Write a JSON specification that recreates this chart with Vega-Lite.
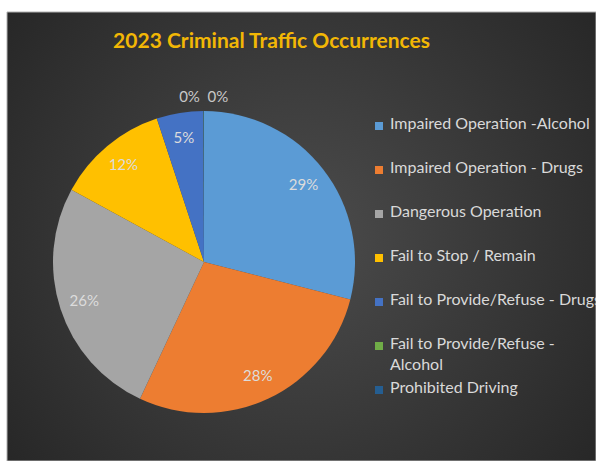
{
  "$schema": "https://vega.github.io/schema/vega-lite/v6.json",
  "width": 589,
  "height": 449,
  "autosize": {"type": "none"},
  "padding": {"left": 7, "top": 12, "right": 0, "bottom": 0},
  "background": "white",
  "title": {
    "text": "2023 Criminal Traffic Occurrences",
    "color": "#f2b705",
    "font": "Lato",
    "fontSize": 21,
    "fontWeight": "bold",
    "anchor": "middle",
    "dx": -30,
    "baseline": "bottom",
    "offset": -61
  },
  "datasets": {
    "slices": [
      {"category": "Impaired Operation -Alcohol", "share": 0.29, "idx": 1},
      {"category": "Impaired Operation - Drugs", "share": 0.28, "idx": 2},
      {"category": "Dangerous Operation", "share": 0.26, "idx": 3},
      {"category": "Fail to Stop / Remain", "share": 0.12, "idx": 4},
      {"category": "Fail to Provide/Refuse - Drugs", "share": 0.05, "idx": 5},
      {"category": "Fail to Provide/Refuse - Alcohol", "share": 0.0003, "idx": 6},
      {"category": "Prohibited Driving", "share": 0.0003, "idx": 7}
    ],
    "bg": [{"name": "background"}]
  },
  "data": {"name": "slices"},
  "layer": [
    {
      "data": {"name": "bg"},
      "mark": {
        "type": "rect",
        "fill": {
          "gradient": "radial",
          "x1": 0.5, "y1": 0.5, "r1": 0,
          "x2": 0.5, "y2": 0.5, "r2": 0.75,
          "stops": [
            {"offset": 0, "color": "#4c4c4c"},
            {"offset": 1, "color": "#202020"}
          ]
        },
        "stroke": "#b0b0b0",
        "strokeWidth": 1
      },
      "encoding": {}
    },
    {
      "mark": {"type": "arc", "outerRadius": 151, "x": 197, "y": 250},
      "encoding": {
        "theta": {"field": "share", "type": "quantitative", "stack": true},
        "order": {"field": "idx", "type": "quantitative"},
        "color": {
          "field": "category",
          "type": "nominal",
          "sort": null,
          "scale": {
            "domain": ["Impaired Operation -Alcohol", "Impaired Operation - Drugs", "Dangerous Operation", "Fail to Stop / Remain", "Fail to Provide/Refuse - Drugs", "Fail to Provide/Refuse - Alcohol", "Prohibited Driving"],
            "range": ["#5b9bd5", "#ed7d31", "#a5a5a5", "#ffc000", "#4472c4", "#70ad47", "#255e91"]
          },
          "legend": {
            "orient": "none",
            "legendX": 364,
            "legendY": 106,
            "title": null,
            "symbolType": "square",
            "symbolSize": 64,
            "symbolStrokeWidth": 0,
            "labelFont": "Lato",
            "labelFontSize": 16,
            "labelColor": "#d9d9d9",
            "labelLimit": 0,
            "labelOffset": 3,
            "labelBaseline": "top",
            "gridAlign": "all",
            "rowPadding": 7,
            "labelExpr": "datum.label == 'Fail to Provide/Refuse - Alcohol' ? ['Fail to Provide/Refuse -', 'Alcohol'] : datum.label",
            "encode": {"labels": {"update": {"dy": {"value": -10}, "lineHeight": {"value": 21}}}}
          }
        }
      }
    },
    {
      "mark": {"type": "text", "radius": 126, "x": 197, "y": 250, "font": "Lato", "fontSize": 15, "fill": "#dcdcdc"},
      "encoding": {
        "theta": {"field": "share", "type": "quantitative", "stack": true},
        "order": {"field": "idx", "type": "quantitative"},
        "text": {"field": "share", "type": "quantitative", "format": ".0%"},
        "opacity": {"condition": {"test": "datum.share >= 0.01", "value": 1}, "value": 0}
      }
    },
    {
      "mark": {"type": "text", "radius": 165, "x": 197, "y": 250, "dx": -14, "font": "Lato", "fontSize": 15, "fill": "#c8c8c8"},
      "encoding": {
        "theta": {"field": "share", "type": "quantitative", "stack": true},
        "order": {"field": "idx", "type": "quantitative"},
        "text": {"field": "share", "type": "quantitative", "format": ".0%"},
        "opacity": {"condition": {"test": "datum.idx == 6", "value": 1}, "value": 0}
      }
    },
    {
      "mark": {"type": "text", "radius": 165, "x": 197, "y": 250, "dx": 14, "font": "Lato", "fontSize": 15, "fill": "#c8c8c8"},
      "encoding": {
        "theta": {"field": "share", "type": "quantitative", "stack": true},
        "order": {"field": "idx", "type": "quantitative"},
        "text": {"field": "share", "type": "quantitative", "format": ".0%"},
        "opacity": {"condition": {"test": "datum.idx == 7", "value": 1}, "value": 0}
      }
    }
  ],
  "config": {
    "view": {"fill": "#333333", "stroke": "#b0b0b0", "strokeWidth": 1}
  }
}
